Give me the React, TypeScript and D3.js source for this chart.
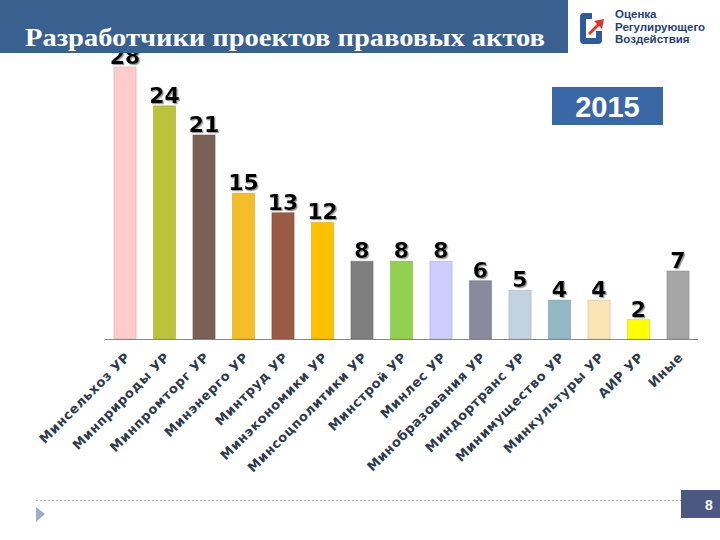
import * as d3 from "d3";

const categories = [
  "Минсельхоз УР",
  "Минприроды УР",
  "Минпромторг УР",
  "Минэнерго УР",
  "Минтруд УР",
  "Минэкономики УР",
  "Минсоцполитики УР",
  "Минстрой УР",
  "Минлес УР",
  "Минобразования УР",
  "Миндортранс УР",
  "Минимущество УР",
  "Минкультуры УР",
  "АИР УР",
  "Иные",
];
const values = [28, 24, 21, 15, 13, 12, 8, 8, 8, 6, 5, 4, 4, 2, 7];
const barColors = [
  "#FFCCCC", "#BBC33A", "#7B6058", "#F4BD2A", "#9A5B45", "#FFC000", "#7F7F7F",
  "#92D050", "#CCCCFF", "#8B8A9C", "#C2D3DF", "#93B7C3", "#FBE5B6", "#FFFF00", "#A6A6A6",
];
const title = "Разработчики проектов правовых актов";
const yearLabel = "2015";
const logoLines = ["Оценка", "Регулирующего", "Воздействия"];
const pageNumber = "8";

export default function App() {
  const width = 720;
  const height = 540;
  const baseY = 339;

  const x = d3
    .scaleBand<string>()
    .domain(categories)
    .range([105.25, 697.75])
    .paddingInner(0.44)
    .paddingOuter(0.22);
  const y = d3.scaleLinear().domain([0, 28]).range([baseY, 67]);

  const heavyFont = "'DejaVu Sans', Verdana, sans-serif";
  const plainFont = "'Liberation Sans', Arial, sans-serif";

  return (
    <svg
      width={width}
      height={height}
      style={{ position: "absolute", left: 0, top: 0, background: "#fff" }}
    >
      <defs>
        <filter id="labelShadow" x="-20%" y="-20%" width="150%" height="150%">
          <feDropShadow dx={1.2} dy={1.2} stdDeviation={0.3} floodColor="#9a9a9a" floodOpacity={1} />
        </filter>
      </defs>

      {/* bars */}
      {categories.map((c, i) => (
        <rect
          key={c}
          x={x(c)}
          y={y(values[i])}
          width={x.bandwidth()}
          height={baseY - y(values[i])}
          fill={barColors[i]}
          stroke={d3.color(barColors[i])!.darker(0.6).formatHex()}
          strokeOpacity={0.5}
          strokeWidth={1}
        />
      ))}
      <line x1={105} x2={698} y1={baseY + 0.5} y2={baseY + 0.5} stroke="#888" strokeWidth={1} />

      {/* value labels */}
      {categories.map((c, i) => (
        <text
          key={c}
          x={x(c)! + x.bandwidth() / 2}
          y={y(values[i]) - 3}
          fontFamily={heavyFont}
          fontWeight="bold"
          fontSize={22}
          textAnchor="middle"
          fill="#000"
          filter="url(#labelShadow)"
        >
          {values[i]}
        </text>
      ))}

      {/* category labels */}
      {categories.map((c) => {
        const cx = x(c)! + x.bandwidth() / 2 + 6;
        return (
          <text
            key={c}
            transform={`translate(${cx},${baseY + 19}) rotate(-45)`}
            textAnchor="end"
            fontFamily={heavyFont}
            fontWeight="bold"
            fontSize={13}
            letterSpacing={0.6}
            fill="#2E3B4E"
          >
            {c}
          </text>
        );
      })}

      {/* header */}
      <rect x={0} y={0} width={568} height={53} fill="#3A6090" />
      <text
        x={25}
        y={46}
        fill="#fff"
        fontFamily="'Liberation Serif', 'Times New Roman', serif"
        fontWeight="bold"
        fontSize={26}
        textLength={520}
        lengthAdjust="spacingAndGlyphs"
      >
        {title}
      </text>

      {/* logo */}
      <path
        d="M592,13 L584,13 Q580,13 580,17 L580,40 Q580,44 584,44 L598,44 Q602,44 602,40 L602,31 L596,31 L596,38 L586,38 L586,19 L592,19 Z"
        fill="#2F5A9E"
      />
      <path d="M588,33 L597,24 L594,21 L604,19 L602,29 L599,26 L590,35 Z" fill="#E0322B" />
      {logoLines.map((t, i) => (
        <text
          key={t}
          x={615}
          y={18 + i * 12.5}
          fontFamily={plainFont}
          fontWeight="bold"
          fontSize={11.5}
          fill="#1F3E78"
        >
          {t}
        </text>
      ))}

      {/* year box */}
      <rect x={552} y={87} width={111} height={38} fill="#3C67A6" />
      <text
        x={607.5}
        y={117}
        textAnchor="middle"
        fill="#fff"
        fontFamily={plainFont}
        fontWeight="bold"
        fontSize={29}
      >
        {yearLabel}
      </text>

      {/* footer */}
      <line x1={36} x2={685} y1={500.5} y2={500.5} stroke="#bbb" strokeWidth={1} strokeDasharray="2,2" />
      <path d="M36,507 L45,514 L36,522 Z" fill="#9AAEC4" />
      <rect x={681} y={490} width={39} height={28} fill="#4B5882" />
      <text
        x={709}
        y={510}
        textAnchor="middle"
        fill="#fff"
        fontFamily={plainFont}
        fontWeight="bold"
        fontSize={14}
      >
        {pageNumber}
      </text>
    </svg>
  );
}
